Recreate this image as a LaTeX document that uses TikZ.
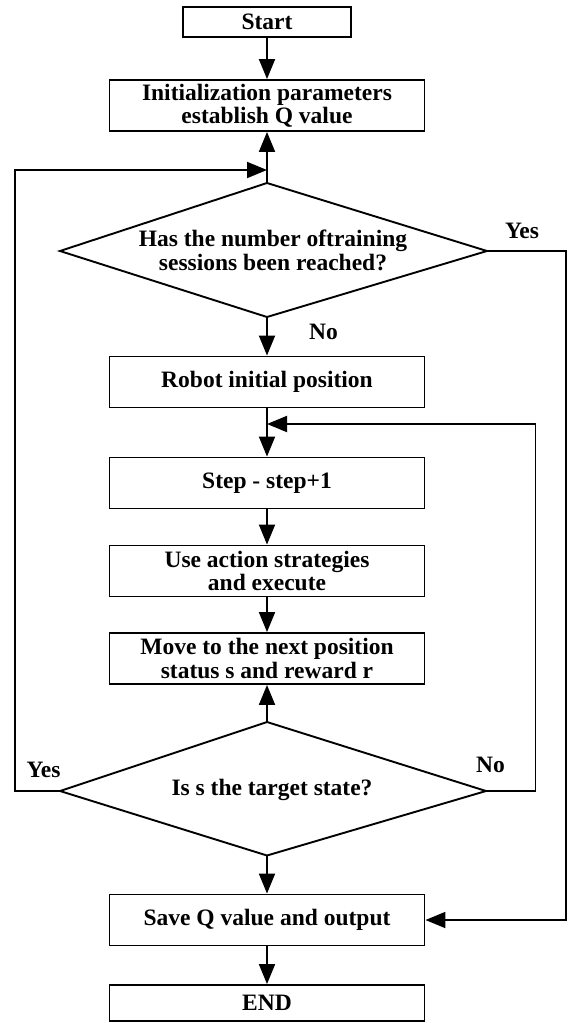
\documentclass[tikz,border=0pt]{standalone}
\usepackage{fontspec}
\setmainfont{Liberation Serif}
\usetikzlibrary{arrows.meta}
\begin{document}
\begin{tikzpicture}[x=1pt,y=-1pt,
  lbl/.style={inner sep=0pt, align=center, font=\fontsize{23.5}{23.5}\selectfont\bfseries},
  box/.style={lbl, draw, line width=1.9pt, minimum width=315pt, minimum height=51pt},
  ln/.style={line width=1.9pt},
  arr/.style={line width=1.9pt, -{Triangle[width=16pt,length=20pt]}}]
\path[use as bounding box] (0,0) rectangle (568,1023);

% boxes
\node[box, minimum width=168pt, minimum height=30pt] (start) at (267,22) {Start};
\node[box] (init) at (267,105.5) {Initialization parameters\\establish Q value};
\node[box] (robot) at (267,382) {Robot initial position};
\node[box] (step) at (267,483) {Step - step+1};
\node[box] (use) at (267,571) {Use action strategies\\and execute};
\node[box] (move) at (267,658.5) {Move to the next position\\status s and reward r};
\node[box] (save) at (267,920) {Save Q value and output};
\node[box, minimum height=36pt] (end) at (267,1003) {END};

% diamond 1
\coordinate (d1t) at (267,183);
\coordinate (d1r) at (487,251);
\coordinate (d1b) at (267,317);
\coordinate (d1l) at (60,251);
\draw[ln, line join=miter] (d1t) -- (d1r) -- (d1b) -- (d1l) -- cycle;
\node[lbl] (q1) at (273,250.5) {Has the number oftraining\\sessions been reached?};

% diamond 2
\coordinate (d2t) at (267,722);
\coordinate (d2r) at (486,791);
\coordinate (d2b) at (267,855.5);
\coordinate (d2l) at (60,791);
\draw[ln, line join=miter] (d2t) -- (d2r) -- (d2b) -- (d2l) -- cycle;
\node[lbl] (q2) at (272,790) {Is s the target state?};

% junctions and corners
\coordinate (j1) at (267,170);
\coordinate (j2) at (267,424);
\coordinate (lx) at (15,170);
\coordinate (r2) at (535.5,424);
\coordinate (rx) at (566,500);

% connectors
\draw[arr] (start) -- (init);
\draw[arr] (d1t) -- (init);
\draw[arr] (d2l) -| (lx) -- (j1);
\draw[arr] (d1b) -- (robot);
\draw[arr] (robot) -- (step);
\draw[arr] (d2r) -| (r2) -- (j2);
\draw[arr] (step) -- (use);
\draw[arr] (use) -- (move);
\draw[arr] (d2t) -- (move);
\draw[arr] (d2b) -- (save);
\draw[arr] (d1r) -| (rx) |- (save.east);
\draw[arr] (save) -- (end);

% labels
\node[lbl] (yes1) at (522,231) {Yes};
\node[lbl] (no1) at (323.5,332) {No};
\node[lbl] (yes2) at (43.5,770) {Yes};
\node[lbl] (no2) at (490.5,765) {No};
\end{tikzpicture}
\end{document}
